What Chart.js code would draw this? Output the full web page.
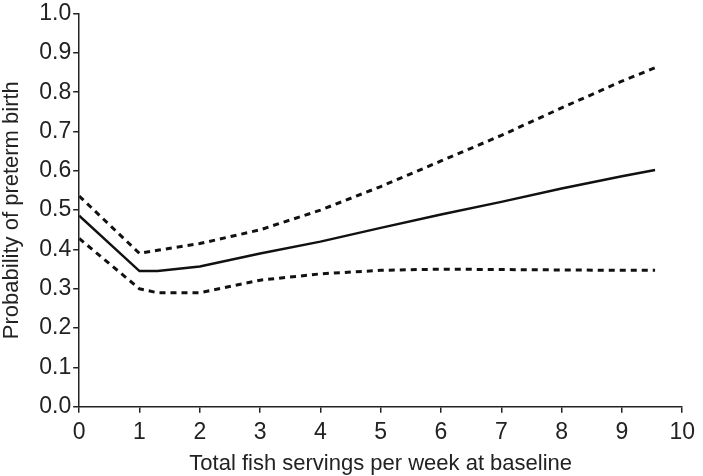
<!DOCTYPE html>
<html lang="en">
<head>
    <meta charset="UTF-8">
    <title>Preterm birth by fish intake</title>
    <script src="https://cdn.jsdelivr.net/npm/chart.js"></script>
    <style>
        html, body {
            margin: 0;
            padding: 0;
            background: #fff;
        }
        #wrap {
            width: 703px;
            height: 476px;
        }
    </style>
</head>
<body>
    <div id="wrap"><canvas id="fishChart"></canvas></div>
    <script>
        // fish servings per week (x) and estimated probabilities
        const servings = [0, 1, 1.3, 2, 3, 4, 5, 6, 7, 8, 9, 9.55];
        const estimate = [0.486, 0.345, 0.345, 0.357, 0.39, 0.42, 0.455, 0.489, 0.521, 0.555, 0.586, 0.602];
        const upperCI = [0.536, 0.39, 0.398, 0.415, 0.45, 0.5, 0.56, 0.625, 0.69, 0.76, 0.828, 0.862];
        const lowerCI = [0.428, 0.3, 0.29, 0.29, 0.322, 0.338, 0.347, 0.35, 0.349, 0.348, 0.347, 0.347];

        const toPoints = ys => servings.map((x, i) => ({ x: x, y: ys[i] }));
        const tickFont = { family: "'Liberation Sans', Arial, sans-serif", size: 23, lineHeight: 1.0 };
        const titleFont = { family: "'Liberation Sans', Arial, sans-serif", size: 22, lineHeight: 1.1 };

        const ctx = document.getElementById('fishChart').getContext('2d');
        new Chart(ctx, {
            type: 'line',
            data: {
                datasets: [{
                    label: 'Estimate',
                    data: toPoints(estimate),
                    borderColor: '#111',
                    borderWidth: 2.5,
                    pointRadius: 0,
                    tension: 0,
                    fill: false
                }, {
                    label: 'Upper 95% CI',
                    data: toPoints(upperCI),
                    borderColor: '#111',
                    borderWidth: 3,
                    borderDash: [6, 5],
                    pointRadius: 0,
                    tension: 0,
                    fill: false
                }, {
                    label: 'Lower 95% CI',
                    data: toPoints(lowerCI),
                    borderColor: '#111',
                    borderWidth: 3,
                    borderDash: [6, 5],
                    pointRadius: 0,
                    tension: 0,
                    fill: false
                }]
            },
            options: {
                responsive: true,
                maintainAspectRatio: false,
                animation: false,
                layout: { padding: { top: 0, right: -3, left: 0, bottom: 0 } },
                plugins: {
                    legend: { display: false },
                    tooltip: { enabled: false }
                },
                scales: {
                    x: {
                        type: 'linear',
                        min: 0,
                        max: 10,
                        ticks: { stepSize: 1, color: '#222', font: tickFont, padding: 8 },
                        grid: { drawOnChartArea: false, color: '#222', tickLength: 6, lineWidth: 1.5 },
                        border: { color: '#222', width: 1.5 },
                        title: { display: true, text: 'Total fish servings per week at baseline', color: '#222', font: titleFont, padding: { top: 0, bottom: 0 } }
                    },
                    y: {
                        min: 0,
                        max: 1,
                        ticks: {
                            stepSize: 0.1,
                            color: '#222',
                            font: tickFont,
                            padding: 2,
                            callback: v => v.toFixed(1)
                        },
                        grid: { drawOnChartArea: false, color: '#222', tickLength: 6, lineWidth: 1.5 },
                        border: { color: '#222', width: 1.5 },
                        title: { display: true, text: 'Probability of preterm birth', color: '#222', font: titleFont, padding: { top: 0, bottom: 13 } }
                    }
                }
            }
        });
    </script>
</body>
</html>
